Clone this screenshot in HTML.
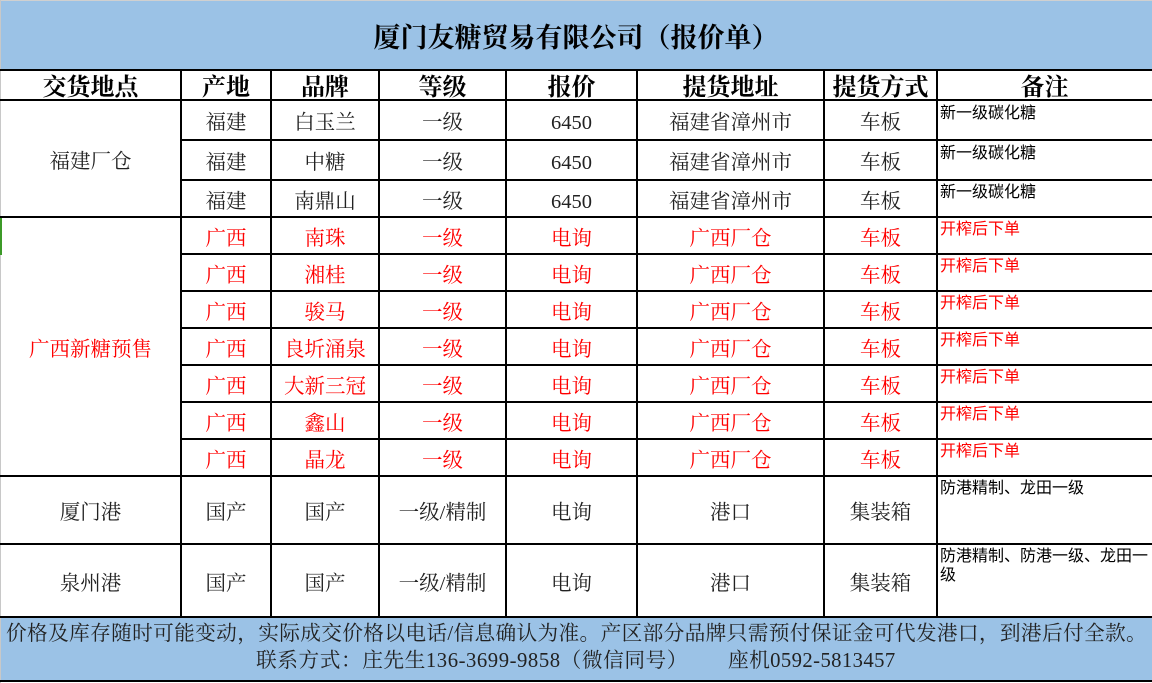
<!DOCTYPE html>
<html><head><meta charset="utf-8">
<style>
html,body{margin:0;padding:0;}
body{width:1152px;height:683px;position:relative;overflow:hidden;background:#fff;
font-family:"Liberation Serif","Noto Serif CJK SC",serif;color:#222;}
.bg{position:absolute;background:#9bc2e6;}
.h{position:absolute;height:2px;background:#000;}
.v{position:absolute;width:2px;background:#000;}
.c{position:absolute;display:flex;align-items:center;justify-content:center;font-size:20.5px;line-height:1;white-space:nowrap;padding-top:7px;box-sizing:border-box;}
.hd{font-weight:bold;font-size:24px;color:#000;padding-top:6px;}
.r{color:#ff0000;}
.n{position:absolute;font-family:"Liberation Sans","Noto Sans CJK SC",sans-serif;font-size:16px;line-height:19px;color:#000;left:940px;width:211px;word-break:break-all;}
.nr{color:#ff0000;}
.t{position:absolute;font-size:20.7px;line-height:1;white-space:nowrap;color:#222;}
</style></head><body>
<div class="bg" style="left:0;top:0;width:1152px;height:70px;"></div>
<div class="bg" style="left:0;top:617px;width:1152px;height:64px;"></div>
<div style="position:absolute;left:0;top:0;width:1152px;height:1px;background:#d0d0d0"></div>
<div style="position:absolute;left:0;top:0;width:1px;height:683px;background:#c8c8c8"></div>
<div style="position:absolute;left:0;top:217px;width:2px;height:38px;background:#3c9a28"></div>

<!-- title -->
<div class="c" style="left:0;top:0;width:1152px;height:72px;font-size:27px;font-weight:bold;color:#000;padding-top:4px;">厦门友糖贸易有限公司（报价单）</div>

<!-- horizontal lines -->
<div class="h" style="left:0;top:69px;width:1152px;"></div>
<div class="h" style="left:0;top:99px;width:1152px;"></div>
<div class="h" style="left:181px;top:139px;width:971px;"></div>
<div class="h" style="left:181px;top:179px;width:971px;"></div>
<div class="h" style="left:0;top:216px;width:1152px;"></div>
<div class="h" style="left:181px;top:253px;width:971px;"></div>
<div class="h" style="left:181px;top:290px;width:971px;"></div>
<div class="h" style="left:181px;top:327px;width:971px;"></div>
<div class="h" style="left:181px;top:364px;width:971px;"></div>
<div class="h" style="left:181px;top:401px;width:971px;"></div>
<div class="h" style="left:181px;top:438px;width:971px;"></div>
<div class="h" style="left:0;top:475px;width:1152px;"></div>
<div class="h" style="left:0;top:543px;width:1152px;"></div>
<div class="h" style="left:0;top:616px;width:1152px;"></div>
<div class="h" style="left:0;top:680px;width:1152px;"></div>

<!-- vertical lines -->
<div class="v" style="left:180px;top:70px;height:547px;"></div>
<div class="v" style="left:270px;top:70px;height:547px;"></div>
<div class="v" style="left:378px;top:70px;height:547px;"></div>
<div class="v" style="left:505px;top:70px;height:547px;"></div>
<div class="v" style="left:636px;top:70px;height:547px;"></div>
<div class="v" style="left:823px;top:70px;height:547px;"></div>
<div class="v" style="left:936px;top:70px;height:547px;"></div>

<!-- header -->
<div class="c hd" style="left:0;top:70px;width:181px;height:30px;">交货地点</div>
<div class="c hd" style="left:181px;top:70px;width:90px;height:30px;">产地</div>
<div class="c hd" style="left:271px;top:70px;width:108px;height:30px;">品牌</div>
<div class="c hd" style="left:379px;top:70px;width:127px;height:30px;">等级</div>
<div class="c hd" style="left:506px;top:70px;width:131px;height:30px;">报价</div>
<div class="c hd" style="left:637px;top:70px;width:187px;height:30px;">提货地址</div>
<div class="c hd" style="left:824px;top:70px;width:113px;height:30px;">提货方式</div>
<div class="c hd" style="left:937px;top:70px;width:215px;height:30px;">备注</div>

<!-- column 1 merged -->
<div class="c" style="left:0;top:100px;width:181px;height:117px;">福建厂仓</div>
<div class="c r" style="left:0;top:217px;width:181px;height:259px;">广西新糖预售</div>
<div class="c" style="left:0;top:476px;width:181px;height:68px;">厦门港</div>
<div class="c" style="left:0;top:544px;width:181px;height:73px;">泉州港</div>

<!-- Fujian rows -->
<div class="c" style="left:181px;top:100px;width:90px;height:40px;">福建</div>
<div class="c" style="left:271px;top:100px;width:108px;height:40px;">白玉兰</div>
<div class="c" style="left:379px;top:100px;width:127px;height:40px;">一级</div>
<div class="c" style="left:506px;top:100px;width:131px;height:40px;">6450</div>
<div class="c" style="left:637px;top:100px;width:187px;height:40px;">福建省漳州市</div>
<div class="c" style="left:824px;top:100px;width:113px;height:40px;">车板</div>
<div class="n" style="top:104px;">新一级碳化糖</div>

<div class="c" style="left:181px;top:140px;width:90px;height:40px;">福建</div>
<div class="c" style="left:271px;top:140px;width:108px;height:40px;">中糖</div>
<div class="c" style="left:379px;top:140px;width:127px;height:40px;">一级</div>
<div class="c" style="left:506px;top:140px;width:131px;height:40px;">6450</div>
<div class="c" style="left:637px;top:140px;width:187px;height:40px;">福建省漳州市</div>
<div class="c" style="left:824px;top:140px;width:113px;height:40px;">车板</div>
<div class="n" style="top:144px;">新一级碳化糖</div>

<div class="c" style="left:181px;top:180px;width:90px;height:37px;">福建</div>
<div class="c" style="left:271px;top:180px;width:108px;height:37px;">南鼎山</div>
<div class="c" style="left:379px;top:180px;width:127px;height:37px;">一级</div>
<div class="c" style="left:506px;top:180px;width:131px;height:37px;">6450</div>
<div class="c" style="left:637px;top:180px;width:187px;height:37px;">福建省漳州市</div>
<div class="c" style="left:824px;top:180px;width:113px;height:37px;">车板</div>
<div class="n" style="top:183px;">新一级碳化糖</div>

<!-- Guangxi rows -->
<div class="c r" style="left:181px;top:217px;width:90px;height:37px;">广西</div>
<div class="c r" style="left:271px;top:217px;width:108px;height:37px;">南珠</div>
<div class="c r" style="left:379px;top:217px;width:127px;height:37px;">一级</div>
<div class="c r" style="left:506px;top:217px;width:131px;height:37px;">电询</div>
<div class="c r" style="left:637px;top:217px;width:187px;height:37px;">广西厂仓</div>
<div class="c r" style="left:824px;top:217px;width:113px;height:37px;">车板</div>
<div class="n nr" style="top:220px;">开榨后下单</div>

<div class="c r" style="left:181px;top:254px;width:90px;height:37px;">广西</div>
<div class="c r" style="left:271px;top:254px;width:108px;height:37px;">湘桂</div>
<div class="c r" style="left:379px;top:254px;width:127px;height:37px;">一级</div>
<div class="c r" style="left:506px;top:254px;width:131px;height:37px;">电询</div>
<div class="c r" style="left:637px;top:254px;width:187px;height:37px;">广西厂仓</div>
<div class="c r" style="left:824px;top:254px;width:113px;height:37px;">车板</div>
<div class="n nr" style="top:257px;">开榨后下单</div>

<div class="c r" style="left:181px;top:291px;width:90px;height:37px;">广西</div>
<div class="c r" style="left:271px;top:291px;width:108px;height:37px;">骏马</div>
<div class="c r" style="left:379px;top:291px;width:127px;height:37px;">一级</div>
<div class="c r" style="left:506px;top:291px;width:131px;height:37px;">电询</div>
<div class="c r" style="left:637px;top:291px;width:187px;height:37px;">广西厂仓</div>
<div class="c r" style="left:824px;top:291px;width:113px;height:37px;">车板</div>
<div class="n nr" style="top:294px;">开榨后下单</div>

<div class="c r" style="left:181px;top:328px;width:90px;height:37px;">广西</div>
<div class="c r" style="left:271px;top:328px;width:108px;height:37px;">良圻涌泉</div>
<div class="c r" style="left:379px;top:328px;width:127px;height:37px;">一级</div>
<div class="c r" style="left:506px;top:328px;width:131px;height:37px;">电询</div>
<div class="c r" style="left:637px;top:328px;width:187px;height:37px;">广西厂仓</div>
<div class="c r" style="left:824px;top:328px;width:113px;height:37px;">车板</div>
<div class="n nr" style="top:331px;">开榨后下单</div>

<div class="c r" style="left:181px;top:365px;width:90px;height:37px;">广西</div>
<div class="c r" style="left:271px;top:365px;width:108px;height:37px;">大新三冠</div>
<div class="c r" style="left:379px;top:365px;width:127px;height:37px;">一级</div>
<div class="c r" style="left:506px;top:365px;width:131px;height:37px;">电询</div>
<div class="c r" style="left:637px;top:365px;width:187px;height:37px;">广西厂仓</div>
<div class="c r" style="left:824px;top:365px;width:113px;height:37px;">车板</div>
<div class="n nr" style="top:368px;">开榨后下单</div>

<div class="c r" style="left:181px;top:402px;width:90px;height:37px;">广西</div>
<div class="c r" style="left:271px;top:402px;width:108px;height:37px;">鑫山</div>
<div class="c r" style="left:379px;top:402px;width:127px;height:37px;">一级</div>
<div class="c r" style="left:506px;top:402px;width:131px;height:37px;">电询</div>
<div class="c r" style="left:637px;top:402px;width:187px;height:37px;">广西厂仓</div>
<div class="c r" style="left:824px;top:402px;width:113px;height:37px;">车板</div>
<div class="n nr" style="top:405px;">开榨后下单</div>

<div class="c r" style="left:181px;top:439px;width:90px;height:37px;">广西</div>
<div class="c r" style="left:271px;top:439px;width:108px;height:37px;">晶龙</div>
<div class="c r" style="left:379px;top:439px;width:127px;height:37px;">一级</div>
<div class="c r" style="left:506px;top:439px;width:131px;height:37px;">电询</div>
<div class="c r" style="left:637px;top:439px;width:187px;height:37px;">广西厂仓</div>
<div class="c r" style="left:824px;top:439px;width:113px;height:37px;">车板</div>
<div class="n nr" style="top:442px;">开榨后下单</div>

<!-- Xiamen port -->
<div class="c" style="left:181px;top:476px;width:90px;height:68px;">国产</div>
<div class="c" style="left:271px;top:476px;width:108px;height:68px;">国产</div>
<div class="c" style="left:379px;top:476px;width:127px;height:68px;">一级/精制</div>
<div class="c" style="left:506px;top:476px;width:131px;height:68px;">电询</div>
<div class="c" style="left:637px;top:476px;width:187px;height:68px;">港口</div>
<div class="c" style="left:824px;top:476px;width:113px;height:68px;">集装箱</div>
<div class="n" style="top:479px;">防港精制、龙田一级</div>

<!-- Quanzhou port -->
<div class="c" style="left:181px;top:544px;width:90px;height:73px;">国产</div>
<div class="c" style="left:271px;top:544px;width:108px;height:73px;">国产</div>
<div class="c" style="left:379px;top:544px;width:127px;height:73px;">一级/精制</div>
<div class="c" style="left:506px;top:544px;width:131px;height:73px;">电询</div>
<div class="c" style="left:637px;top:544px;width:187px;height:73px;">港口</div>
<div class="c" style="left:824px;top:544px;width:113px;height:73px;">集装箱</div>
<div class="n" style="top:547px;">防港精制、防港一级、龙田一级</div>

<!-- footer -->
<div class="t" style="left:6px;top:624px;letter-spacing:0.33px;">价格及库存随时可能变动，实际成交价格以电话/信息确认为准。产区部分品牌只需预付保证金可代发港口，到港后付全款。</div>
<div class="t" style="left:256px;top:651px;letter-spacing:0.55px;">联系方式：庄先生136-3699-9858（微信同号）</div>
<div class="t" style="left:728px;top:651px;letter-spacing:0.4px;">座机0592-5813457</div>
</body></html>
